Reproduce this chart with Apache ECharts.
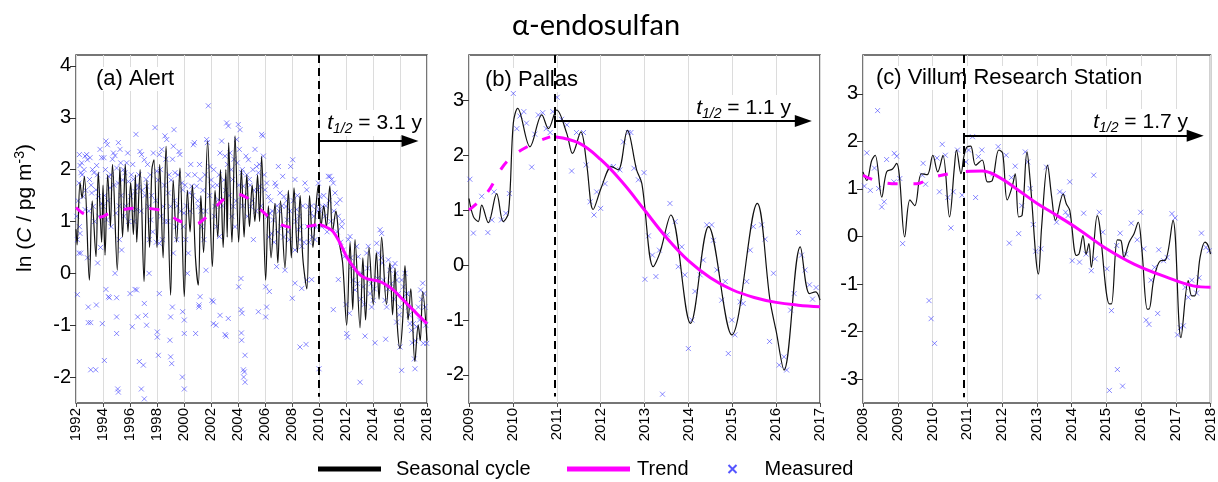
<!DOCTYPE html>
<html><head><meta charset="utf-8">
<script src="https://cdn.jsdelivr.net/npm/echarts@6/dist/echarts.min.js"></script>
<style>html,body{margin:0;padding:0;background:#fff}#c{width:1218px;height:482px}</style>
</head><body><div id="c"></div><script>
// ---------------- DATA ----------------
const panelTitles = ['(a) Alert', '(b) Pallas', '(c) Villum Research Station'];
const halfLives = ['3.1', '1.1', '1.7'];
const splitYears = [2010, 2010.95, 2010.9];
const xRanges = [[1992, 2018, 2], [2009, 2017, 1], [2008, 2018, 1]];
const yTickLabels = [[-2, -1, 0, 1, 2, 3, 4], [-2, -1, 0, 1, 2, 3], [-3, -2, -1, 0, 1, 2, 3]];
const yRanges = [[-2.5, 4.21], [-2.51, 3.82], [-3.505, 3.82]];

const alertSeasonal = [[1992.00,0.85],[1992.08,0.55],[1992.30,1.75],[1992.45,1.45],[1992.62,1.87],[1992.99,-0.13],[1993.20,1.40],[1993.48,0.32],[1993.65,1.95],[1993.90,0.60],[1994.00,1.70],[1994.15,0.35],[1994.35,1.90],[1994.55,0.90],[1994.70,2.10],[1995.06,0.06],[1995.25,2.05],[1995.45,0.70],[1995.65,2.10],[1995.85,0.80],[1996.05,1.75],[1996.25,0.75],[1996.40,1.90],[1996.50,0.60],[1996.75,2.00],[1997.04,-0.16],[1997.25,1.80],[1997.45,0.50],[1997.62,2.00],[1997.78,2.19],[1998.00,0.50],[1998.20,2.10],[1998.45,0.30],[1998.67,2.45],[1999.01,-0.42],[1999.20,1.80],[1999.45,0.60],[1999.70,2.03],[2000.02,-0.45],[2000.25,1.60],[2000.45,0.80],[2000.62,1.70],[2000.85,0.30],[2001.06,-0.23],[2001.25,1.50],[2001.45,0.40],[2001.75,2.55],[2002.10,0.13],[2002.30,1.60],[2002.50,0.70],[2002.70,2.00],[2002.90,0.50],[2003.10,2.00],[2003.20,0.70],[2003.31,2.52],[2003.55,0.60],[2003.78,2.65],[2004.05,0.60],[2004.25,2.00],[2004.45,0.70],[2004.65,1.90],[2004.85,0.90],[2005.05,1.70],[2005.25,1.00],[2005.45,1.90],[2005.60,1.00],[2005.75,2.26],[2006.05,-0.13],[2006.25,1.30],[2006.45,0.30],[2006.74,1.35],[2006.95,0.20],[2007.15,1.40],[2007.48,0.10],[2007.73,1.60],[2007.95,0.30],[2008.15,1.65],[2008.40,0.40],[2008.60,1.50],[2008.80,0.30],[2009.10,-0.30],[2009.30,1.50],[2009.55,0.50],[2009.75,1.20],[2009.95,1.70],[2010.15,0.90],[2010.35,1.30],[2010.55,0.90],[2010.80,1.68],[2011.00,0.80],[2011.25,1.20],[2011.50,0.60],[2011.75,0.20],[2012.05,-1.00],[2012.30,0.60],[2012.50,-0.70],[2012.67,0.65],[2013.04,-1.05],[2013.25,0.30],[2013.45,-0.90],[2013.70,0.50],[2014.02,-0.60],[2014.25,0.40],[2014.45,-0.50],[2014.64,0.70],[2015.00,-0.60],[2015.25,0.20],[2015.45,-0.80],[2015.63,0.10],[2015.80,-1.00],[2016.00,-1.45],[2016.20,-0.90],[2016.37,0.15],[2016.60,-0.90],[2016.80,-0.30],[2017.10,-1.70],[2017.35,-1.00],[2017.50,-1.30],[2017.68,-0.35],[2018.00,-1.30]];
const alertTrendDashed = [[1992.0,1.27],[1992.5,1.16],[1993.0,1.10],[1993.5,1.07],[1994.0,1.10],[1994.5,1.16],[1995.0,1.20],[1995.5,1.23],[1996.0,1.25],[1996.5,1.26],[1997.0,1.26],[1997.5,1.25],[1998.0,1.23],[1998.5,1.19],[1999.0,1.12],[1999.5,1.03],[2000.0,0.98],[2000.5,0.95],[2001.0,0.96],[2001.5,1.05],[2002.0,1.18],[2002.5,1.32],[2003.0,1.44],[2003.5,1.50],[2004.0,1.52],[2004.5,1.48],[2005.0,1.40],[2005.5,1.27],[2006.0,1.15],[2006.5,1.03],[2007.0,0.96],[2007.5,0.91],[2008.0,0.89],[2008.5,0.89],[2009.0,0.90],[2009.5,0.92],[2010.0,0.95]];
const alertTrendSolid = [[2010.0,0.95],[2010.7,0.87],[2011.06,0.80],[2011.56,0.58],[2012.05,0.32],[2012.54,0.13],[2013.04,-0.03],[2013.53,-0.10],[2014.02,-0.13],[2014.52,-0.16],[2015.01,-0.23],[2015.5,-0.32],[2016.0,-0.45],[2016.49,-0.58],[2016.99,-0.71],[2017.48,-0.84],[2018.0,-0.97]];
const alertMeasured = [
[1992.25,2.29],[1992.30,2.08],[1992.42,2.13],[1992.67,2.26],[1992.79,2.29],[1992.37,1.94],[1992.22,1.74],[1992.25,0.9],[1992.30,0.77],[1992.10,0.65],[1992.54,1.48],[1992.67,1.23],
[1992.10,-0.41],[1992.22,0.39],[1992.35,0.39],[1992.91,-0.65],[1992.91,-0.95],[1993.09,-0.95],
[1992.05,1.1],[1992.15,1.4],[1992.45,1.9],[1992.6,2.0],[1992.72,1.6],[1992.85,0.3],[1992.95,1.2],
[1992.84,2.19],[1993.04,2.23],[1993.33,1.94],[1993.53,2.08],[1993.0,1.81],[1993.16,1.55],[1993.28,1.29],[1993.48,1.61],[1993.65,1.48],
[1993.09,-1.86],[1993.46,-1.86],[1993.51,-0.61],
[1993.12,1.7],[1993.22,2.0],[1993.38,1.0],[1993.58,1.9],[1993.7,1.1],[1993.82,0.5],[1993.6,0.2],
[1993.78,2.39],[1993.90,2.23],[1994.07,2.23],[1994.22,2.55],[1994.32,2.48],[1994.40,1.87],[1994.52,1.65],[1993.90,1.35],[1994.02,1.29],[1994.27,1.03],
[1993.95,-0.97],[1994.10,-1.68],[1994.22,-0.31],[1994.40,-0.45],[1994.47,-0.47],
[1994.12,1.5],[1994.18,2.0],[1994.35,1.4],[1994.6,1.9],[1994.7,2.2],[1994.82,1.7],[1994.6,0.9],
[1994.77,2.32],[1994.89,2.27],[1995.01,2.03],[1995.14,2.52],[1995.26,2.39],[1995.31,2.13],[1995.14,1.74],[1994.96,1.16],[1995.21,0.65],[1995.38,0.45],
[1995.01,-0.47],[1995.09,-2.23],[1995.14,-2.29],[1995.01,-1.16],[1995.01,-0.84],[1994.89,0],
[1995.2,1.3],[1995.45,1.8],[1995.5,2.0],[1995.55,1.1],[1995.7,1.3],[1995.9,1.0],[1995.35,1.5],
[1995.63,1.94],[1995.75,2.13],[1995.83,2.32],[1995.88,1.77],[1996.05,1.48],[1996.12,1.23],[1996.25,1.81],[1996.37,1.58],[1996.49,1.23],[1996.44,2.68],
[1996.0,-0.39],[1996.17,-1.03],[1996.37,-0.31],[1996.49,-0.32],[1996.57,-0.84],[1996.69,-1.70],[1996.99,-1.77],[1996.84,-2.23],
[1996.1,1.9],[1996.2,2.1],[1996.3,1.0],[1996.55,1.7],[1996.65,1.9],[1996.8,1.2],[1996.9,1.6],
[1996.62,1.65],[1996.74,2.35],[1996.86,2.29],[1997.06,2.19],[1997.19,1.81],[1997.23,1.68],[1997.36,1.29],[1997.43,0.65],[1997.53,1.03],
[1997.06,-2.42],[1997.16,-0.81],[1997.06,-0.58],[1997.23,-1.0],[1997.41,0],
[1997.1,1.5],[1997.3,2.1],[1997.5,1.9],[1997.6,1.5],[1997.68,0.8],[1997.9,1.4],[1997.95,0.6],
[1997.73,2.32],[1997.85,2.81],[1997.98,1.97],[1998.17,2.29],[1998.35,2.39],[1998.47,1.29],[1998.59,1.0],[1998.40,0.65],[1998.17,0.58],
[1998.02,-1.13],[1998.02,-1.23],[1998.10,-1.58],[1998.17,-0.39],
[1998.08,1.8],[1998.25,2.0],[1998.3,1.1],[1998.55,1.7],[1998.65,2.2],[1998.8,1.0],[1998.9,1.9],
[1998.59,2.65],[1998.72,2.58],[1998.84,1.55],[1999.01,1.29],[1999.21,2.45],[1999.26,2.77],[1999.33,1.94],[1999.41,0.90],[1999.46,0.65],[1999.21,0.39],
[1998.96,-1.29],[1999.01,-1.61],[1999.09,-1.74],[1999.01,-0.84],[1999.14,-0.65],
[1999.05,1.8],[1999.15,2.2],[1999.3,1.4],[1999.5,1.3],[1999.55,1.9],[1999.75,1.2],[1999.95,0.9],
[1999.63,2.35],[1999.70,2.29],[1999.83,1.74],[1999.90,1.61],[2000.0,1.16],[2000.12,0.65],[2000.25,0],[2000.32,0.39],[2000.40,1.55],[2000.57,1.68],
[1999.88,-2.0],[2000.02,-2.23],[2000.02,-1.16],[2000.02,-0.90],[1999.90,-0.74],
[2000.08,1.7],[2000.18,1.3],[2000.3,1.9],[2000.45,1.2],[2000.5,2.1],[2000.65,1.5],[2000.8,1.9],
[2000.69,2.48],[2000.77,2.52],[2000.94,1.68],[2001.06,1.29],[2001.19,1.81],[2001.31,0.90],[2001.48,0.65],[2001.63,0.06],[2001.68,2.58],[2001.80,3.23],
[2000.86,-1.16],[2001.11,-0.61],[2001.11,-0.65],[2001.19,-0.45],
[2001.02,1.4],[2001.15,2.1],[2001.25,1.2],[2001.4,1.6],[2001.55,1.9],[2001.6,1.2],[2001.9,1.5],
[2001.73,2.52],[2001.93,2.06],[2002.12,1.68],[2002.30,1.29],[2002.42,0.90],[2002.54,1.42],[2002.67,2.32],[2002.79,2.55],[2002.62,0.71],
[2002.07,-0.52],[2002.17,-0.55],[2002.17,-0.97],[2002.37,-1.0],[2002.67,-0.81],
[2002.02,1.8],[2002.2,2.0],[2002.25,1.1],[2002.45,1.7],[2002.6,1.9],[2002.85,1.3],[2002.95,1.8],
[2003.04,2.26],[2003.16,2.90],[2003.28,2.84],[2003.41,2.32],[2003.60,1.81],[2003.65,1.29],[2003.78,0.90],[2003.90,2.58],[2003.95,2.13],
[2003.04,-1.18],[2003.11,-1.21],[2003.28,-0.87],
[2003.08,1.6],[2003.22,2.1],[2003.35,1.5],[2003.5,2.0],[2003.55,1.1],[2003.7,2.2],[2003.85,1.4],
[2004.02,2.87],[2004.15,2.77],[2004.10,2.39],[2004.27,1.94],[2004.40,1.68],[2004.59,2.26],[2004.77,2.19],[2004.84,1.81],[2004.94,1.29],[2005.14,0.65],
[2004.22,-0.10],[2004.05,-0.26],[2004.22,-0.70],[2004.30,-0.77],[2004.25,-1.15],[2004.27,-1.29],[2004.40,-1.86],[2004.47,-1.90],[2004.42,-2.0],[2004.52,-1.58],[2004.52,-2.10],
[2004.05,1.7],[2004.32,2.0],[2004.35,1.3],[2004.5,1.5],[2004.65,1.9],[2004.7,1.1],[2004.9,1.7],
[2005.26,2.39],[2005.38,2.06],[2005.51,1.94],[2005.63,1.68],[2005.75,2.68],[2005.83,2.65],[2005.88,2.26],[2006.0,1.61],
[2005.51,-0.74],
[2005.05,1.4],[2005.1,2.0],[2005.2,1.6],[2005.32,1.2],[2005.45,1.6],[2005.58,2.1],[2005.7,1.3],[2005.95,1.9],
[2006.12,1.74],[2006.25,1.48],[2006.37,1.16],[2006.49,0.77],[2006.62,1.03],[2006.74,1.74],[2006.81,1.68],[2006.99,2.06],
[2006.05,-0.26],[2006.12,-0.65],[2006.05,-0.84],[2006.32,-0.35],[2006.86,0.13],
[2006.2,1.1],[2006.3,0.7],[2006.42,1.4],[2006.55,1.2],[2006.68,0.6],[2006.9,1.3],[2006.95,0.8],
[2007.11,1.55],[2007.31,1.87],[2007.41,1.48],[2007.56,1.29],[2007.65,1.03],[2007.80,0.65],[2007.90,2.06],
[2007.48,0.06],[2008.02,-0.48],
[2007.05,1.2],[2007.2,0.9],[2007.25,1.3],[2007.38,0.7],[2007.6,1.4],[2007.7,0.8],[2007.85,1.2],
[2008.05,2.19],[2008.22,1.81],[2008.35,1.23],[2008.47,0.84],[2008.59,0.65],[2008.72,0.52],[2008.22,0.45],
[2008.22,-0.19],[2008.59,-1.42],[2009.04,-1.37],[2008.72,-0.29],
[2008.1,1.4],[2008.3,1.0],[2008.4,1.5],[2008.52,1.1],[2008.65,0.9],[2008.8,1.3],[2008.9,0.6],
[2008.96,1.74],[2009.09,1.61],[2009.21,1.29],[2009.38,1.16],[2009.58,0.90],[2009.70,0.65],[2009.83,1.29],
[2009.09,-0.13],[2009.46,-0.12],[2010.0,-1.84],
[2009.15,0.9],[2009.25,0.6],[2009.45,1.3],[2009.5,0.7],[2009.62,1.1],[2009.78,0.9],[2009.9,1.2],
[2009.95,1.74],[2010.07,1.48],[2010.27,1.29],[2010.44,1.10],[2010.69,1.87],[2010.81,1.87],[2010.94,1.81],[2011.06,1.74],
[2011.06,-0.70],
[2010.1,1.2],[2010.2,0.9],[2010.35,1.5],[2010.5,1.3],[2010.6,0.8],[2010.75,1.4],[2010.88,1.0],
[2011.19,1.55],[2011.31,1.35],[2011.43,1.10],[2011.56,1.42],[2011.68,0.90],[2011.80,0.45],[2011.88,0.32],
[2011.43,-0.12],
[2011.1,1.2],[2011.35,0.8],[2011.6,0.6],[2011.72,1.0],
[2012.17,0.65],[2012.30,0.71],[2012.42,0.13],[2012.54,-0.13],[2012.67,-0.32],[2012.79,0.52],[2012.91,0.32],
[2012.05,-1.16],[2012.12,-1.23],[2012.25,-0.77],
[2012.0,-0.6],[2012.35,0.3],[2012.6,0.1],[2012.85,-0.2],
[2013.16,0],[2013.28,-0.26],[2013.53,0.39],[2013.65,0.52],[2013.78,-0.39],[2013.90,-0.65],[2014.02,-0.52],
[2013.04,-2.10],[2013.41,-1.21],
[2013.1,-0.5],[2013.35,-0.6],[2013.6,0.1],[2013.85,-0.2],
[2014.27,0.58],[2014.40,0.39],[2014.52,0.84],[2014.64,0.77],[2014.77,-0.13],[2014.89,-0.52],[2015.01,-0.65],
[2014.15,-1.34],[2014.94,-1.27],
[2014.1,-0.3],[2014.33,-0.1],[2014.6,0.3],[2014.7,0.2],
[2015.14,0.26],[2015.26,0.06],[2015.46,0.13],[2015.63,0.19],[2015.75,-0.13],[2015.88,-0.39],[2016.0,-0.65],
[2015.75,-0.94],[2016.0,-1.42],[2016.12,-1.87],
[2015.1,-0.3],[2015.35,-0.2],[2015.55,-0.5],[2015.7,0.0],[2015.95,-0.8],
[2016.12,-0.13],[2016.25,-0.26],[2016.37,0],[2016.49,-0.39],[2016.62,-0.65],[2016.74,-0.97],
[2016.91,-1.34],
[2016.3,-0.5],[2016.55,-0.4],[2016.68,-0.8],[2016.85,-1.1],
[2016.99,-0.97],[2017.23,-1.03],[2017.36,-0.65],[2017.53,-0.32],[2017.68,-0.19],[2017.78,-0.39],[2017.85,-0.65],
[2017.06,-1.65],[2017.11,-1.84],[2017.73,-1.35],[2017.98,-1.35],
[2017.15,-1.3],[2017.45,-0.9],[2017.6,-0.5],[2017.9,-1.0]
];

const pallasSeasonal = [[2009.0,1.21],[2009.1,0.88],[2009.21,0.79],[2009.29,1.09],[2009.44,0.77],[2009.63,1.30],[2009.78,0.79],[2009.9,0.95],[2010.01,2.58],[2010.11,2.85],[2010.39,2.15],[2010.66,2.73],[2010.81,2.48],[2011.0,2.82],[2011.23,2.39],[2011.36,2.03],[2011.55,2.42],[2011.68,1.85],[2011.83,1.01],[2012.02,1.42],[2012.25,1.79],[2012.4,1.73],[2012.61,2.45],[2012.82,1.73],[2012.94,1.48],[2013.2,-0.03],[2013.35,0.22],[2013.6,0.91],[2014.05,-1.06],[2014.46,0.70],[2014.99,-1.27],[2015.57,1.12],[2015.86,-0.64],[2016.0,-1.2],[2016.18,-1.91],[2016.55,0.33],[2016.76,-0.52],[2016.9,-0.49],[2017.0,-0.64]];
const pallasTrendDashed = [[2009.0,1.0],[2009.4,1.3],[2009.86,1.88],[2010.39,2.18],[2010.85,2.33]];
const pallasTrendSolid = [[2010.98,2.33],[2011.5,2.22],[2012.0,1.92],[2012.5,1.50],[2013.0,1.00],[2013.5,0.50],[2014.0,0.08],[2014.5,-0.23],[2015.0,-0.45],[2015.5,-0.59],[2016.0,-0.68],[2016.5,-0.73],[2017.0,-0.76]];
const pallasMeasured = [[2009.02,1.56],[2009.1,0.58],[2009.29,1.25],[2009.43,0.59],[2009.52,0.82],[2009.57,1.33],[2009.74,0.82],[2009.84,0.94],[2009.92,1.30],[2010.01,3.12],[2010.09,2.48],[2010.16,2.71],[2010.25,2.79],[2010.31,2.58],[2010.43,1.78],[2010.5,2.38],[2010.58,2.73],[2010.68,2.77],[2010.76,2.48],[2010.85,2.41],[2010.91,2.79],[2011.01,3.05],[2011.11,2.65],[2011.23,2.55],[2011.34,1.71],[2011.45,2.41],[2011.61,2.41],[2011.67,1.82],[2011.76,1.15],[2011.85,0.91],[2011.91,1.33],[2012.0,1.03],[2012.1,1.48],[2012.21,1.79],[2012.29,1.79],[2012.44,1.73],[2012.52,2.24],[2012.63,2.41],[2012.69,2.41],[2012.76,1.76],[2012.86,1.55],[2012.99,1.68],[2013.01,-0.26],[2013.09,0.53],[2013.18,0.18],[2013.26,-0.21],[2013.34,0.27],[2013.41,-2.35],[2013.52,0.55],[2013.58,1.12],[2013.7,0.79],[2013.77,-0.03],[2013.85,0.33],[2013.92,-0.18],[2014.0,-1.52],[2014.08,-1.0],[2014.15,-0.48],[2014.27,-0.18],[2014.34,0.09],[2014.42,0.73],[2014.53,0.73],[2014.57,0.45],[2014.65,-0.09],[2014.76,-0.64],[2014.84,-0.3],[2014.91,-1.61],[2014.99,-1.0],[2015.06,-1.27],[2015.18,-0.67],[2015.25,-0.7],[2015.33,-0.3],[2015.41,0.27],[2015.48,0.70],[2015.67,0.73],[2015.75,0.47],[2015.85,-1.39],[2015.94,-0.15],[2016.07,-1.82],[2016.18,-1.67],[2016.24,-1.91],[2016.33,-0.82],[2016.41,-0.52],[2016.51,0.59],[2016.58,0.18],[2016.66,-0.09],[2016.76,-0.36],[2016.83,-0.62],[2016.91,-0.41]];

const villumSeasonal = [[2008.0,1.36],[2008.11,1.18],[2008.25,1.6],[2008.35,1.71],[2008.54,0.83],[2008.68,1.36],[2008.85,1.42],[2008.97,1.54],[2009.05,1.25],[2009.2,-0.01],[2009.35,0.77],[2009.49,0.65],[2009.68,1.32],[2009.85,1.3],[2010.01,1.71],[2010.15,1.36],[2010.3,1.71],[2010.49,0.41],[2010.63,1.46],[2010.69,1.82],[2010.82,1.32],[2010.91,1.71],[2011.0,1.89],[2011.1,1.90],[2011.24,1.5],[2011.43,1.61],[2011.58,1.15],[2011.72,1.18],[2011.91,1.82],[2012.02,1.75],[2012.15,0.77],[2012.29,1.04],[2012.38,1.32],[2012.48,0.41],[2012.58,0.45],[2012.72,1.78],[2012.81,1.18],[2013.05,-0.79],[2013.14,0.2],[2013.31,1.5],[2013.43,0.83],[2013.54,0.34],[2013.76,0.89],[2013.85,0.69],[2013.95,0.55],[2014.14,-0.4],[2014.22,-0.36],[2014.33,0.02],[2014.42,-0.37],[2014.5,-0.15],[2014.57,-0.65],[2014.74,0.44],[2015.09,-1.42],[2015.15,-1.42],[2015.32,-0.07],[2015.42,-0.08],[2015.51,-0.44],[2015.66,-0.12],[2015.8,0.06],[2015.92,0.3],[2016.02,-0.23],[2016.18,-1.53],[2016.23,-1.53],[2016.37,-0.89],[2016.56,-0.51],[2016.7,-0.5],[2016.92,0.34],[2017.15,-2.13],[2017.36,-0.93],[2017.46,-1.25],[2017.55,-1.25],[2017.7,-0.44],[2017.84,-0.12],[2017.93,-0.19],[2018.0,-0.37]];
const villumTrendDashed = [[2008.0,1.29],[2008.35,1.18],[2008.97,1.11],[2009.54,1.11],[2009.92,1.22],[2010.39,1.31],[2010.87,1.36]];
const villumTrendSolid = [[2010.96,1.37],[2011.43,1.38],[2011.91,1.25],[2012.48,0.97],[2013.0,0.70],[2013.43,0.51],[2014.19,0.16],[2014.95,-0.23],[2015.8,-0.58],[2016.75,-0.86],[2017.5,-1.04],[2018.0,-1.07]];
const villumMeasured = [[2008.04,1.06],[2008.11,1.76],[2008.21,0.97],[2008.33,1.44],[2008.42,2.65],[2008.45,1.01],[2008.54,0.62],[2008.61,0.73],[2008.68,1.62],[2008.9,1.75],[2008.97,1.69],[2008.89,1.15],[2009.06,1.22],[2009.14,-0.15],[2009.71,1.29],[2009.73,1.54],[2009.8,1.1],[2009.9,-1.35],[2009.96,-1.73],[2010.06,-2.25],[2010.13,1.65],[2010.2,0.94],[2010.28,1.94],[2010.37,1.71],[2010.44,0.82],[2010.53,0.18],[2010.6,0.94],[2010.72,1.82],[2010.85,0.87],[2010.96,1.57],[2011.04,1.82],[2011.15,2.1],[2011.24,0.82],[2011.32,1.68],[2011.42,1.82],[2011.74,1.32],[2011.89,1.89],[2012.12,1.71],[2012.21,-0.14],[2012.27,1.24],[2012.38,1.48],[2012.48,0.06],[2012.57,0.65],[2012.67,1.78],[2012.74,1.57],[2012.81,1.01],[2012.9,0.25],[2012.97,-0.31],[2013.05,-1.27],[2013.12,-0.26],[2013.28,1.46],[2013.57,0.3],[2013.66,0.94],[2013.76,0.9],[2013.83,0.51],[2013.9,0.44],[2013.95,1.15],[2014.02,-0.51],[2014.23,-0.54],[2014.35,0.49],[2014.42,-0.37],[2014.57,-0.72],[2014.64,1.29],[2014.68,-0.47],[2014.8,0.51],[2014.9,0.09],[2015.02,-0.68],[2015.09,-3.24],[2015.15,-1.56],[2015.3,-0.19],[2015.32,-2.8],[2015.4,0.07],[2015.47,-3.15],[2015.56,-0.37],[2015.72,0.28],[2015.89,-0.07],[2015.99,0.51],[2016.08,-0.26],[2016.15,-1.76],[2016.23,-1.85],[2016.29,-0.92],[2016.39,-0.65],[2016.48,-1.62],[2016.51,-0.28],[2016.65,-0.51],[2016.75,-0.44],[2016.89,0.48],[2016.98,0.39],[2017.05,-2.07],[2017.13,-1.92],[2017.22,-1.88],[2017.27,-1.07],[2017.36,-1.28],[2017.46,-0.92],[2017.6,-1.19],[2017.67,-0.87],[2017.74,0.07],[2017.87,-0.23],[2017.96,-0.3]];

// ---------------- LAYOUT / STYLE ----------------
const FONT = '"Liberation Sans", Arial, sans-serif';
const gridLeft = [76, 469, 863];
const GRID_W = 351, GRID_TOP = 55, GRID_H = 348;
const arrowY = [[2.55, 2.62, 2.45], [2.62, 2.72, 2.52], [2.12, 2.14, 1.95]]; // [arrow, stubTop, stubBottom]
const arrowEnd = [2016.74, 2016.62, 2017.56];
const labelPos = [[94, 79], [483, 80], [874, 78]];
const halfPos = [[423, 123], [792, 108], [1189, 122]];

const panels = [
  {seasonal: alertSeasonal, dash: alertTrendDashed, solid: alertTrendSolid, meas: alertMeasured},
  {seasonal: pallasSeasonal, dash: pallasTrendDashed, solid: pallasTrendSolid, meas: pallasMeasured},
  {seasonal: villumSeasonal, dash: villumTrendDashed, solid: villumTrendSolid, meas: villumMeasured}
];
const CROSS = 'path://M0,0L10,10M10,0L0,10';

const grids = [], xAxes = [], yAxes = [], series = [], graphics = [];
panels.forEach((p, i) => {
  grids.push({left: gridLeft[i], top: GRID_TOP, width: GRID_W, height: GRID_H, show: true,
    borderColor: '#4a4a4a', borderWidth: 1.5, backgroundColor: 'transparent', containLabel: false});
  xAxes.push({type: 'value', gridIndex: i, min: xRanges[i][0], max: xRanges[i][1], interval: xRanges[i][2],
    position: 'bottom',
    axisLine: {show: false, onZero: false}, axisTick: {show: true, length: 4, lineStyle: {color: '#4a4a4a'}},
    splitLine: {show: true, lineStyle: {color: '#dcdcdc', width: 1}},
    axisLabel: {rotate: 90, fontSize: 15, color: '#000', fontFamily: FONT, margin: 5, formatter: v => String(v),
      showMinLabel: true, showMaxLabel: true}});
  yAxes.push({type: 'value', gridIndex: i, min: yRanges[i][0], max: yRanges[i][1], position: 'left',
    axisLine: {show: false, onZero: false}, splitLine: {show: false},
    axisTick: {show: true, length: 6, customValues: yTickLabels[i], lineStyle: {color: '#333', width: 1}},
    axisLabel: {customValues: yTickLabels[i], fontSize: 20, color: '#000', fontFamily: FONT, margin: 5}});
  const split = splitYears[i], yMin = yRanges[i][0], yMax = yRanges[i][1];
  series.push({type: 'scatter', name: 'Measured', xAxisIndex: i, yAxisIndex: i, data: p.meas,
    symbol: CROSS, symbolSize: 5, silent: true, z: 2,
    itemStyle: {color: 'none', borderColor: 'rgba(60,60,255,0.75)', borderWidth: 1}});
  series.push({type: 'line', name: 'Seasonal cycle', xAxisIndex: i, yAxisIndex: i, data: p.seasonal,
    smooth: 0.35, showSymbol: false, silent: true, z: 3, lineStyle: {color: '#111', width: 1.2}});
  series.push({type: 'line', name: 'Trend', xAxisIndex: i, yAxisIndex: i, data: p.solid,
    smooth: 0.4, showSymbol: false, silent: true, z: 4, lineStyle: {color: '#ff00ff', width: 3},
    markLine: {silent: true, symbol: ['none', 'none'], label: {show: false}, animation: false,
      lineStyle: {color: '#000', width: 2, type: 'solid'},
      data: [
        [{coord: [split, yMax], lineStyle: {type: [8, 5], width: 2, color: '#000'}}, {coord: [split, yMin + 0.12]}],
        [{coord: [split, arrowY[i][1]]}, {coord: [split, arrowY[i][2]]}],
        [{coord: [split, arrowY[i][0]]}, {coord: [arrowEnd[i], arrowY[i][0]], symbol: 'triangle', symbolSize: [12, 17]}]
      ]}});
  series.push({type: 'line', name: 'Trend', xAxisIndex: i, yAxisIndex: i, data: p.dash,
    smooth: 0.4, showSymbol: false, silent: true, z: 4, lineStyle: {color: '#ff00ff', width: 3, type: [10, 16]}});

  graphics.push({type: 'text', x: labelPos[i][0], y: labelPos[i][1], z: 1,
    style: {text: panelTitles[i], fontSize: 22, fontFamily: FONT, fill: '#000', verticalAlign: 'middle', align: 'left',
      backgroundColor: '#fff', padding: [1, 2]}});
  graphics.push({type: 'text', x: halfPos[i][0], y: halfPos[i][1], z: 1,
    style: {text: '{i|t}{s|1/2}{n| = ' + halfLives[i] + ' y}', align: 'right', verticalAlign: 'middle',
      backgroundColor: '#fff', padding: [0, 1],
      rich: {i: {fontSize: 21, fontStyle: 'italic', fontFamily: FONT, fill: '#000', lineHeight: 26},
             s: {fontSize: 14, fontStyle: 'italic', fontFamily: FONT, fill: '#000', verticalAlign: 'bottom', lineHeight: 26},
             n: {fontSize: 21, fontFamily: FONT, fill: '#000', lineHeight: 26}}}});
});

graphics.push({type: 'text', x: 596, y: 26, style: {text: 'α-endosulfan', fontSize: 29, fontFamily: 'Lato, "Open Sans", sans-serif',
  fill: '#000', align: 'center', verticalAlign: 'middle'}});
graphics.push({type: 'text', x: 25, y: 208, rotation: Math.PI / 2,
  style: {text: '{n|ln (}{i|C}{n| / pg m}{s|-3}{n|)}', align: 'center', verticalAlign: 'middle',
    rich: {n: {fontSize: 21, fontFamily: FONT, fill: '#000', lineHeight: 24},
           i: {fontSize: 21, fontStyle: 'italic', fontFamily: FONT, fill: '#000', lineHeight: 24},
           s: {fontSize: 14, fontFamily: FONT, fill: '#000', verticalAlign: 'top', lineHeight: 24}}}});

const legendBase = {orient: 'horizontal', top: 459, selectedMode: false, itemGap: 0, padding: 0,
  textStyle: {fontSize: 20, fontFamily: FONT, color: '#000'}};
const option = {
  animation: false,
  backgroundColor: '#fff',
  grid: grids, xAxis: xAxes, yAxis: yAxes, series: series, graphic: graphics,
  legend: [
    Object.assign({}, legendBase, {left: 318, itemWidth: 63, itemHeight: 5,
      textStyle: Object.assign({}, legendBase.textStyle, {padding: [0, 0, 0, 10]}),
      data: [{name: 'Seasonal cycle', icon: 'rect', itemStyle: {color: '#000', borderWidth: 0}}]}),
    Object.assign({}, legendBase, {left: 567, itemWidth: 63, itemHeight: 5,
      textStyle: Object.assign({}, legendBase.textStyle, {padding: [0, 0, 0, 2]}),
      data: [{name: 'Trend', icon: 'rect', itemStyle: {color: '#ff00ff', borderWidth: 0}}]}),
    Object.assign({}, legendBase, {left: 726, itemWidth: 8, itemHeight: 8,
      textStyle: Object.assign({}, legendBase.textStyle, {padding: [0, 0, 0, 23]}),
      data: [{name: 'Measured', icon: CROSS, itemStyle: {color: 'none', borderColor: '#2a2aff', borderWidth: 2}}]})
  ]
};
const chart = echarts.init(document.getElementById('c'), null, {renderer: 'canvas'});
chart.setOption(option);
</script></body></html>
